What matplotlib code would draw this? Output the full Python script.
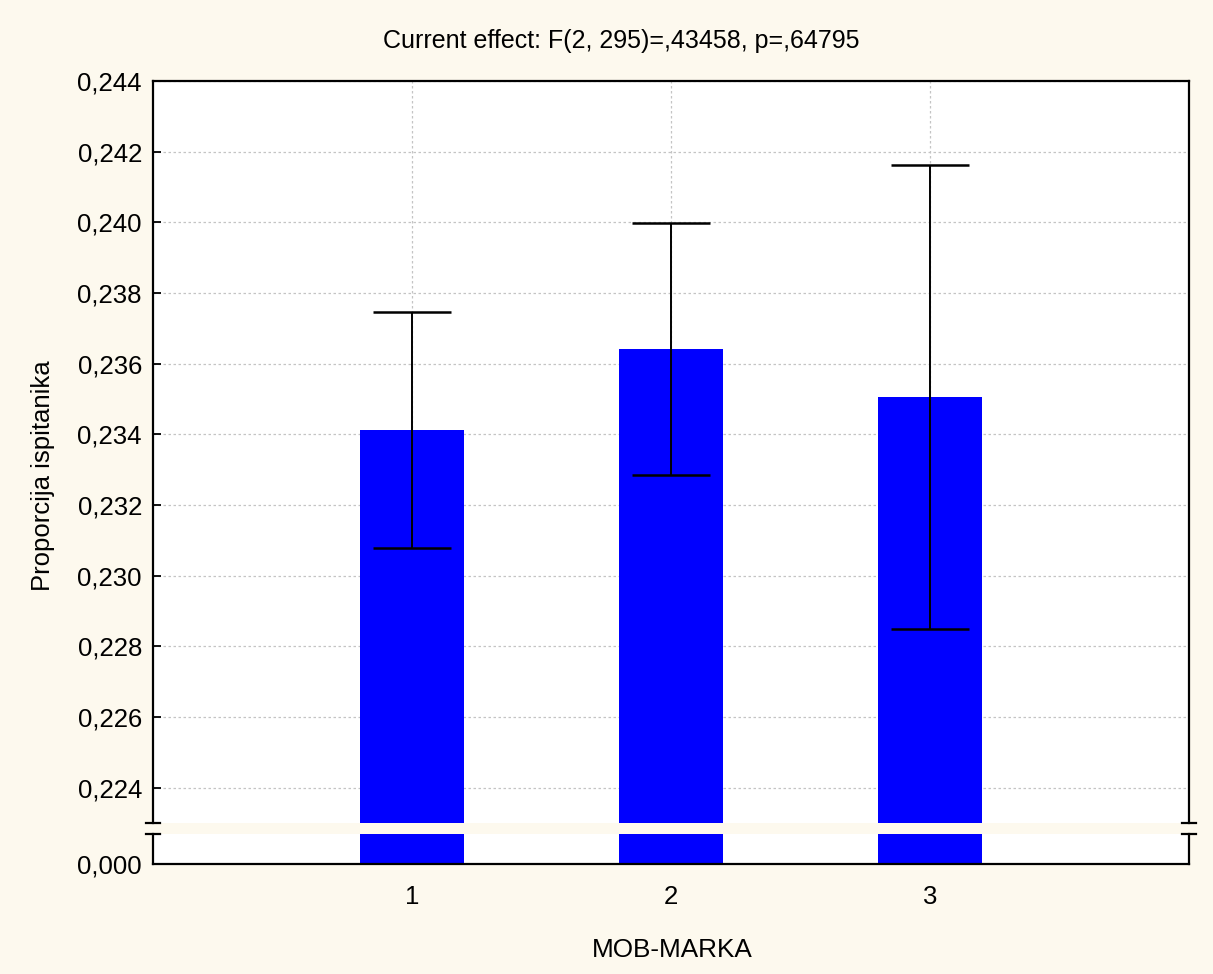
import matplotlib
matplotlib.use("Agg")
import matplotlib.pyplot as plt
from matplotlib.lines import Line2D
from matplotlib.ticker import FuncFormatter

categories = ["1", "2", "3"]
means = [0.23412, 0.23641, 0.23506]
errors = [0.00333, 0.00357, 0.00657]
yticks = [0.224, 0.226, 0.228, 0.230, 0.232, 0.234, 0.236, 0.238, 0.240, 0.242, 0.244]
title = "Current effect: F(2, 295)=,43458, p=,64795"
xlabel = "MOB-MARKA"
ylabel = "Proporcija ispitanika"

plt.rcParams['font.family'] = ['Liberation Sans', 'DejaVu Sans']

W, H = 1213, 974
bg = '#fdf9ee'
fig = plt.figure(figsize=(W / 100, H / 100), dpi=100, facecolor=bg)

L, R = 153, 1189
T_up, B_up = 81, 823
T_lo, B_lo = 834, 864

def fr(x0, y0, x1, y1):
    return [x0 / W, 1 - y1 / H, (x1 - x0) / W, (y1 - y0) / H]

ax = fig.add_axes(fr(L, T_up, R, B_up))
axl = fig.add_axes(fr(L, T_lo, R, B_lo))

xpos = [1, 2, 3]
fmt = FuncFormatter(lambda v, p: f"{v:.3f}".replace('.', ','))

for a in (ax, axl):
    a.set_facecolor('white')
    a.bar(xpos, means, width=0.404, color='#0000ff', zorder=2)
    a.set_xlim(0, 4)
    for s in ('left', 'right', 'top', 'bottom'):
        a.spines[s].set_linewidth(1.6)
        a.spines[s].set_color('black')
    a.tick_params(direction='in', length=6, width=1.3, labelsize=18.5, colors='black')
    a.yaxis.set_major_formatter(fmt)

ax.errorbar(xpos, means, yerr=errors, fmt='none', ecolor='black',
            elinewidth=1.4, capsize=28.2, capthick=1.8, zorder=3)
ax.set_ylim(0.223, 0.244)
ax.set_yticks(yticks)
ax.set_xticks(xpos)
ax.tick_params(axis='x', bottom=False, labelbottom=False)
ax.spines['bottom'].set_visible(False)
ax.grid(True, color='#c4c4c4', linestyle=(0, (2, 2)), linewidth=0.9, zorder=0)
ax.set_axisbelow(True)

axl.set_ylim(0, 0.001)
axl.set_yticks([0.0])
axl.set_xticks(xpos)
axl.set_xticklabels(categories)
axl.spines['top'].set_visible(False)
axl.tick_params(axis='x', pad=15)
axl.tick_params(axis='y', pad=8)
ax.tick_params(axis='y', pad=8)

# break marks
for x in (L, R):
    for y in (B_up, T_lo):
        fig.add_artist(Line2D([(x - 7) / W, (x + 7) / W], [1 - y / H, 1 - y / H],
                              color='black', linewidth=1.6))

fig.text(621 / W, 1 - 41 / H, title, ha='center', va='center', fontsize=18)
fig.text(672 / W, 1 - 950 / H, xlabel, ha='center', va='center', fontsize=18.8)
fig.text(43 / W, 1 - 476 / H, ylabel, ha='center', va='center', rotation=90, fontsize=18.5)

fig.savefig("out.png", dpi=100, facecolor=bg)
